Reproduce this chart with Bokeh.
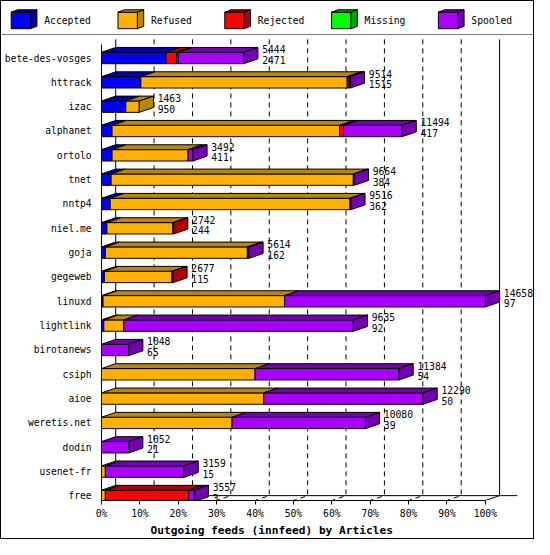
from bokeh.plotting import figure
from bokeh.models import Range1d, FixedTicker, Title
from bokeh.layouts import column
from bokeh.embed import file_html
from bokeh.resources import INLINE
from bokeh.core.properties import value

# ---------------- data (percent of offered articles) ----------------
hosts = ["bete-des-vosges", "httrack", "izac", "alphanet", "ortolo", "tnet", "nntp4",
         "niel.me", "goja", "gegeweb", "linuxd", "lightlink", "birotanews", "csiph",
         "aioe", "weretis.net", "dodin", "usenet-fr", "free"]
series = ["Accepted", "Refused", "Rejected", "Missing", "Spooled"]
accepted = [16.8, 10.25, 6.33, 2.75, 2.75, 2.5, 2.25, 1.4, 1.0, 0.75, 0.4, 0.6, 0, 0, 0, 0, 0, 0, 0]
refused = [0, 53.75, 3.5, 59.3, 19.8, 63.1, 62.5, 17.2, 37.0, 17.6, 47.3, 5.2, 0, 40.0, 42.25, 34.0, 0, 1.0, 1.0]
rejected = [2.75, 0.5, 0, 1.0, 0, 0, 0, 0.2, 0, 0.25, 0, 0, 0, 0, 0, 0, 0, 0, 21.75]
missing = [0.4, 0, 0, 0, 0, 0, 0, 0, 0, 0, 0, 0, 0, 0, 0, 0, 0, 0, 0]
spooled = [17.1, 0.33, 0, 15.25, 1.25, 0.25, 0.2, 0, 0.4, 0, 52.3, 59.8, 7.08, 37.5, 41.5, 34.75, 7.08, 20.5, 1.42]
offered = [5444, 9514, 1463, 11494, 3492, 9664, 9516, 2742, 5614, 2677, 14658, 9635, 1048,
           11384, 12290, 10080, 1052, 3159, 3557]
second = [2471, 1515, 950, 417, 411, 384, 362, 244, 162, 115, 97, 92, 65, 54, 50, 39, 21, 15, 3]
ticks = [0, 10, 20, 30, 40, 50, 60, 70, 80, 90, 100]
tick_labels = ["0%", "10%", "20%", "30%", "40%", "50%", "60%", "70%", "80%", "90%", "100%"]
title_text = "Outgoing feeds (innfeed) by Articles"

# ---------------- style ----------------
FONT = "DejaVu Sans Mono"
front_colors = ["#0000ff", "#ffb000", "#ff0000", "#00ff00", "#aa00ff"]
dark_colors = ["#0000b0", "#b8860b", "#b00000", "#00a800", "#7400b4"]
S = 532 / 548.0          # overall scale
DX, DY, H = 3.7, 0.2, 0.234   # 3-D depth (percent, rows) and half bar height (rows)
ROW = 25.06


def no_align(fig):
    try:
        fig.frame_align = False
    except Exception:
        pass


# ---------------- legend strip ----------------
leg = figure(width=532, height=34, x_range=Range1d(1, 549), y_range=Range1d(1 + 34 / S, 1),
             output_backend="svg", toolbar_location=None, min_border=0,
             x_axis_type=None, y_axis_type=None)
no_align(leg)
leg.grid.visible = False
leg.outline_line_color = None
cx, cy, cc = [], [], []
lx = [11 + 110 * k for k in range(len(series))]
for k in range(len(series)):
    x0 = lx[k]
    cx += [[x0, x0 + 20, x0 + 20, x0], [x0, x0 + 20, x0 + 26.5, x0 + 6.5],
           [x0 + 20, x0 + 26.5, x0 + 26.5, x0 + 20]]
    cy += [[12, 12, 29, 29], [12, 12, 9.5, 9.5], [12, 9.5, 26.5, 29]]
    cc += [front_colors[k], dark_colors[k], dark_colors[k]]
leg.patches(cx, cy, fill_color=cc, line_color="black", line_width=1)
leg.text(x=[v + 34 for v in lx], y=[20.5] * len(series), text=series,
         text_font=value(FONT), text_font_size="9.7px", text_baseline="middle", text_align="left")
leg.segment(x0=[1], y0=[35.5], x1=[549], y1=[35.5], line_color="black", line_width=1)

# ---------------- main chart ----------------
W, HH, MBL, MBB = 532, 503, 95, 38
x_end = (W - MBL) / (4 * S)
y_top = (1 + 34 / S - 59.2) / ROW
y_bot = y_top + ((HH - MBB) / S) / ROW
F = y_bot            # front floor
FB = F - DY          # back floor
WT = (40 - 59.2) / ROW   # top of back wall

p = figure(width=W, height=HH, x_range=Range1d(0, x_end), y_range=Range1d(y_bot, y_top),
           min_border_left=MBL, min_border_right=0, min_border_top=0, min_border_bottom=MBB,
           output_backend="svg", toolbar_location=None, title=None)
no_align(p)
p.grid.visible = False
p.outline_line_color = None
p.background_fill_color = "white"

# walls & floor
grid_xs = [[t + DX, t + DX, t] for t in ticks[1:-1]]
grid_ys = [[WT, FB, F] for _ in ticks[1:-1]]
p.multi_line(grid_xs, grid_ys, line_color="black", line_width=1, line_dash="5 4")
p.multi_line([[DX, DX, -DX], [100 + DX, 100 + DX, 100], [DX, 108.3]],
             [[WT, FB, F + DY], [WT, FB, F], [FB, FB]], line_color="black", line_width=1)

# bars
xs, ys, fc = [], [], []
for i in range(len(hosts)):
    segs = [accepted[i], refused[i], rejected[i], missing[i], spooled[i]]
    x0, last = 0.0, 0
    for k, v in enumerate(segs):
        if v <= 0:
            continue
        x1 = x0 + v
        xs.append([x0, x1, x1, x0]); ys.append([i - H, i - H, i + H, i + H]); fc.append(front_colors[k])
        xs.append([x0, x1, x1 + DX, x0 + DX]); ys.append([i - H, i - H, i - H - DY, i - H - DY]); fc.append(dark_colors[k])
        x0, last = x1, k
    xs.append([x0, x0 + DX, x0 + DX, x0]); ys.append([i - H, i - H - DY, i + H - DY, i + H]); fc.append(dark_colors[last])
p.patches(xs, ys, fill_color=fc, line_color="black", line_width=1)

# value labels
ends = [a + b + c + d + e for a, b, c, d, e in zip(accepted, refused, rejected, missing, spooled)]
lab_x = [e + DX + 1.1 for e in ends]
rows = list(range(len(hosts)))
p.text(x=lab_x, y=[r - 0.35 for r in rows], text=[str(v) for v in offered],
       text_font=value(FONT), text_font_size="9.7px", text_baseline="middle", text_align="left")
p.text(x=lab_x, y=[r + 0.08 for r in rows], text=[str(v) for v in second],
       text_font=value(FONT), text_font_size="9.7px", text_baseline="middle", text_align="left")

# axes
xa = p.xaxis[0]
xa.ticker = FixedTicker(ticks=ticks)
xa.major_label_overrides = dict(zip(ticks, tick_labels))
xa.bounds = (0, 100)
xa.axis_line_color = "black"
xa.major_tick_in = 0
xa.major_tick_out = 4
xa.minor_tick_line_color = None
xa.major_label_standoff = 3
xa.major_label_text_font = FONT
xa.major_label_text_font_size = "9.7px"
xa.major_label_text_color = "black"

ya = p.yaxis[0]
ya.ticker = FixedTicker(ticks=rows)
ya.major_label_overrides = dict(zip(rows, hosts))
ya.bounds = (WT + DY, F)
ya.axis_line_color = "black"
ya.major_tick_line_color = None
ya.minor_tick_line_color = None
ya.major_label_standoff = 4
ya.major_label_text_font = FONT
ya.major_label_text_font_size = "9.6px"
ya.major_label_text_color = "black"

p.add_layout(Title(text=title_text, align="left", offset=49, standoff=0,
                   text_font=FONT, text_font_size="11.2px", text_font_style="bold",
                   text_color="black"), "below")

layout = column(leg, p, spacing=0, styles={"border": "1px solid black"})
open("out.html", "w").write(file_html(layout, INLINE))
